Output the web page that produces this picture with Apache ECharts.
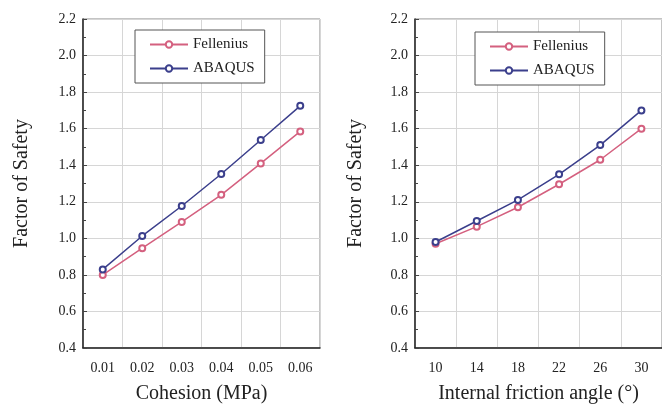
<!DOCTYPE html>
<html>
<head>
<meta charset="utf-8">
<script src="https://cdn.jsdelivr.net/npm/echarts@6/dist/echarts.min.js"></script>
<style>
  html, body { margin: 0; padding: 0; background: #fff; }
  #main { width: 662px; height: 406px; }
</style>
</head>
<body>
<div id="main"></div>
<script>
// 数据
const cohesion = ["0.01", "0.02", "0.03", "0.04", "0.05", "0.06"];
const felleniusC = [0.80, 0.946, 1.09, 1.238, 1.41, 1.585];
const abaqusC = [0.83, 1.013, 1.177, 1.352, 1.538, 1.725];

const angle = ["10", "14", "18", "22", "26", "30"];
const felleniusA = [0.97, 1.064, 1.17, 1.296, 1.43, 1.60];
const abaqusA = [0.98, 1.095, 1.21, 1.35, 1.51, 1.70];

const font = "Liberation Serif";
const pink = "#d4607f";
const navy = "#3b3f8c";

let chart = echarts.init(document.getElementById("main"));

function xAxes(gridIndex, data, name) {
	return [
		{
			gridIndex: gridIndex,
			type: "category",
			data: data,
			boundaryGap: true,
			name: name,
			nameLocation: "middle",
			nameGap: 36,
			nameTextStyle: { fontFamily: font, fontSize: 20, color: "#222" },
			axisLine: { lineStyle: { color: "#222", width: 1.5 } },
			axisTick: { inside: true, length: 4, lineStyle: { color: "#444" } },
			axisLabel: { fontFamily: font, fontSize: 14, color: "#222", margin: 13 },
			splitLine: { show: true, lineStyle: { color: "#d6d6d6" } },
		},
		{
			// 数据点处的小刻度
			gridIndex: gridIndex,
			type: "category",
			data: data,
			position: "bottom",
			axisLine: { show: false },
			axisTick: { inside: true, length: 3, alignWithLabel: true, lineStyle: { color: "#444" } },
			axisLabel: { show: false },
			splitLine: { show: false },
		},
	];
}

function yAxis(gridIndex, gap) {
	return {
		gridIndex: gridIndex,
		type: "value",
		min: 0.4,
		max: 2.2,
		interval: 0.2,
		name: "Factor of Safety",
		nameLocation: "middle",
		nameGap: gap,
		nameTextStyle: { fontFamily: font, fontSize: 20, color: "#222" },
		axisLine: { show: true, lineStyle: { color: "#222", width: 1.5 } },
		axisTick: { show: true, inside: true, length: 4, lineStyle: { color: "#444" } },
		minorTick: { show: true, splitNumber: 2, length: 3, lineStyle: { color: "#444" } },
		axisLabel: {
			fontFamily: font,
			fontSize: 14,
			color: "#222",
			margin: 7,
			formatter: (v) => v.toFixed(1),
		},
		splitLine: { lineStyle: { color: "#d6d6d6" } },
	};
}

function line(name, data, color, xi, yi) {
	return {
		name: name,
		type: "line",
		data: data,
		xAxisIndex: xi,
		yAxisIndex: yi,
		symbol: "emptyCircle",
		symbolSize: 6,
		color: color,
		lineStyle: { color: color, width: 1.5 },
		itemStyle: { color: color, borderWidth: 1.3 },
	};
}

function legend(left, top) {
	return {
		orient: "vertical",
		left: left,
		top: top,
		data: ["Fellenius", "ABAQUS"],
		itemWidth: 38,
		itemHeight: 8,
		itemGap: 9,
		padding: [7, 10, 7, 14],
		borderColor: "#555",
		borderWidth: 1,
		backgroundColor: "#fff",
		textStyle: { fontFamily: font, fontSize: 15, color: "#222" },
	};
}

let option = {
	animation: false,
	backgroundColor: "#fff",
	legend: [legend(135, 30), legend(475, 32)],
	grid: [
		{ left: 83, top: 19, width: 237, height: 329, show: true, borderColor: "#888", borderWidth: 1, outerBoundsMode: "none" },
		{ left: 415, top: 19, width: 247, height: 329, show: true, borderColor: "#888", borderWidth: 1, outerBoundsMode: "none" },
	],
	xAxis: [].concat(xAxes(0, cohesion, "Cohesion (MPa)"), xAxes(1, angle, "Internal friction angle (\u00b0)")),
	yAxis: [yAxis(0, 51), yAxis(1, 49)],
	series: [
		line("Fellenius", felleniusC, pink, 0, 0),
		line("ABAQUS", abaqusC, navy, 0, 0),
		line("Fellenius", felleniusA, pink, 2, 1),
		line("ABAQUS", abaqusA, navy, 2, 1),
	],
};

chart.setOption(option);
</script>
</body>
</html>
